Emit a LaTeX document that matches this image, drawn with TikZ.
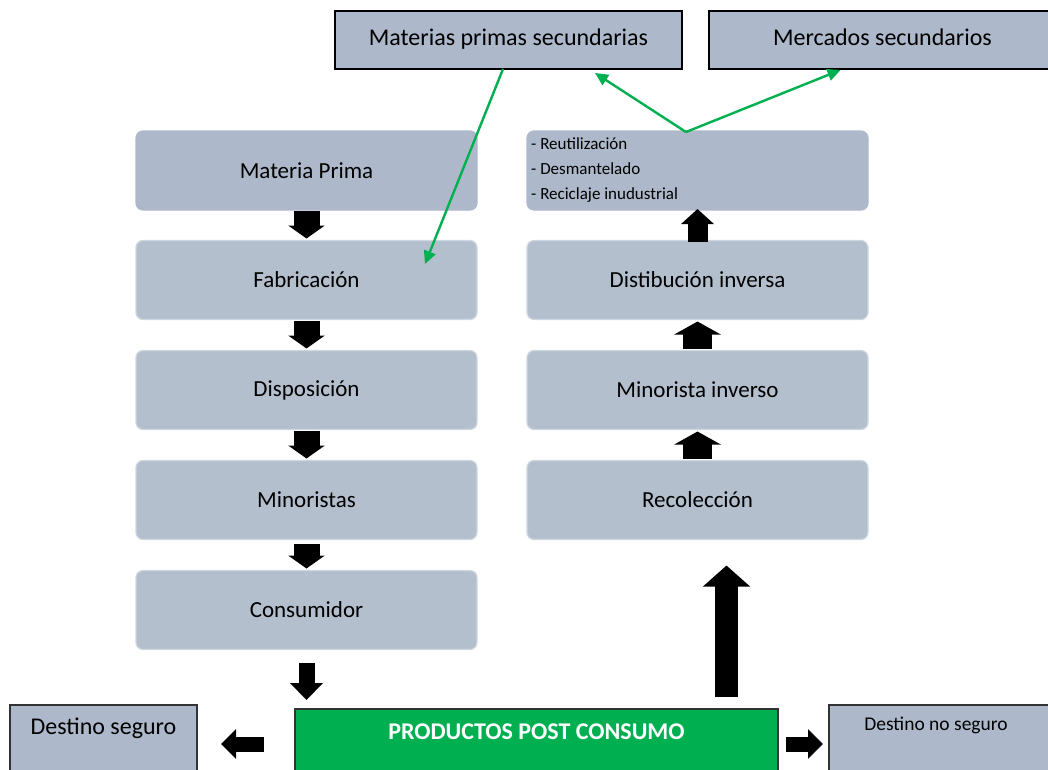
\documentclass[tikz,border=0pt]{standalone}
\usepackage{fontspec}
\setmainfont{Carlito}
\usetikzlibrary{arrows.meta}
\definecolor{boxdark}{HTML}{ADB9CA}
\definecolor{boxlight}{HTML}{B4BFCE}
\definecolor{boxedge}{HTML}{CFD7E1}
\definecolor{ecogreen}{HTML}{00B050}
\begin{document}
\begin{tikzpicture}[x=1pt,y=-1pt,
  flow/.style={rectangle, rounded corners=7pt, fill=boxlight, draw=boxedge,
    line width=1.2pt, minimum width=341pt, minimum height=79pt,
    inner sep=0pt, outer sep=0pt, font=\fontsize{23}{27}\selectfont},
  flowdark/.style={flow, fill=boxdark, draw=boxdark},
  topbox/.style={rectangle, fill=boxdark, draw=black, line width=2pt,
    minimum width=347pt, minimum height=58pt, inner sep=0pt, outer sep=0pt,
    font=\fontsize{24}{28}\selectfont},
  endbox/.style={rectangle, fill=boxdark, draw=black!80, line width=2pt,
    inner sep=0pt, outer sep=0pt},
  downarrow/.style={line width=26pt, -{Triangle[width=36pt,length=13pt]}},
  uparrow/.style={line width=29pt, -{Triangle[width=46pt,length=13pt]}},
  bigarrow/.style={line width=23pt, -{Triangle[width=46pt,length=21pt]}},
  sidearrow/.style={line width=15pt, -{Triangle[width=29pt,length=15pt]}},
  greenarrow/.style={draw=ecogreen, line width=2.4pt,
    -{Triangle[width=12pt,length=13pt]}},
]
\useasboundingbox (0,0) rectangle (1048,769);

% forward chain
\node[flowdark] (mp)  at (306.5,170.5) {Materia Prima};
\node[flow]     (fab) at (306.5,280)   {Fabricación};
\node[flow]     (dis) at (306.5,390)   {Disposición};
\node[flow]     (min) at (306.5,500)   {Minoristas};
\node[flow]     (con) at (306.5,610)   {Consumidor};

% reverse chain
\node[flowdark] (opt) at (697.5,170.5) {};
\node[anchor=west, align=left, inner sep=0pt, font=\fontsize{17}{25}\selectfont]
  (optxt) at ([xshift=4pt]opt.west)
  {- Reutilización\\- Desmantelado\\- Reciclaje inudustrial};
\node[flow] (dinv) at (697.5,280) {Distibución inversa};
\node[flow] (minv) at (697.5,390) {Minorista inverso};
\node[flow] (rec)  at (697.5,500) {Recolección};

% secondary outlets
\node[topbox] (mps)  at (508.5,40) {\raisebox{5pt}{Materias primas secundarias}};
\node[topbox] (merc) at (882.5,40) {\raisebox{5pt}{Mercados secundarios}};

% end of life
\node[rectangle, fill=ecogreen, draw=black!80, line width=2pt, inner sep=0pt,
  outer sep=0pt, minimum width=483pt, minimum height=70pt] (ppc) at (536.5,744) {};
\node[text=white, font=\bfseries\fontsize{24}{28}\selectfont, inner sep=0pt]
  (ppctxt) at (536.5,732) {PRODUCTOS POST CONSUMO};
\node[endbox, minimum width=187pt, minimum height=76pt] (seg) at (103.5,743) {};
\node[font=\fontsize{24}{28}\selectfont, inner sep=0pt] (segtxt) at (103.5,728) {Destino seguro};
\node[endbox, minimum width=227pt, minimum height=76pt] (nseg) at (942.5,743) {};
\node[font=\fontsize{19.5}{23}\selectfont, inner sep=0pt] (nsegtxt) at (936,725) {Destino no seguro};

% forward block arrows
\draw[downarrow] ([yshift=-1pt]mp.south)  -- ([yshift=2pt]fab.north);
\draw[downarrow] ([yshift=-1pt]fab.south) -- ([yshift=2pt]dis.north);
\draw[downarrow] ([yshift=-1pt]dis.south) -- ([yshift=2pt]min.north);
\draw[downarrow] ([yshift=-4pt]min.south) -- ([yshift=2pt]con.north);
\draw[line width=16pt, -{Triangle[width=32pt,length=17pt]}]
  ([yshift=-13pt]con.south) -- ([yshift=9pt]ppc.north -| con.south);

% reverse block arrows
\draw[uparrow] ([yshift=2pt]rec.north)  -- ([yshift=-2pt]minv.south);
\draw[uparrow] ([yshift=2pt]minv.north) -- ([yshift=-2pt]dinv.south);
\draw[line width=20pt, -{Triangle[width=32pt,length=15pt]}]
  ([yshift=-1pt]dinv.north) -- ([yshift=1pt]opt.south);
\coordinate (bigfoot) at ([xshift=190pt,yshift=12pt]ppc.north);
\coordinate (bighead) at ([yshift=-26pt]rec.south -| bigfoot);
\draw[bigarrow] (bigfoot) -- (bighead);

% side block arrows
\draw[sidearrow] ([xshift=-31pt]ppc.west) -- ([xshift=24pt]seg.east |- ppc.west);
\draw[sidearrow] ([xshift=8pt]ppc.east) -- ([xshift=-6pt]nseg.west |- ppc.east);

% green flows
\coordinate (mpsout) at ([xshift=-5.5pt]mps.south);
\coordinate (fabin)  at (425,264);
\coordinate (optout) at ([xshift=-11.5pt,yshift=-1pt]opt.north);
\coordinate (mpsin)  at (595,73);
\coordinate (mercin) at ([xshift=-42pt,yshift=-1pt]merc.south);
\draw[greenarrow] (mpsout) -- (fabin);
\draw[greenarrow] (optout) -- (mpsin);
\draw[greenarrow] (optout) -- (mercin);
\end{tikzpicture}
\end{document}
